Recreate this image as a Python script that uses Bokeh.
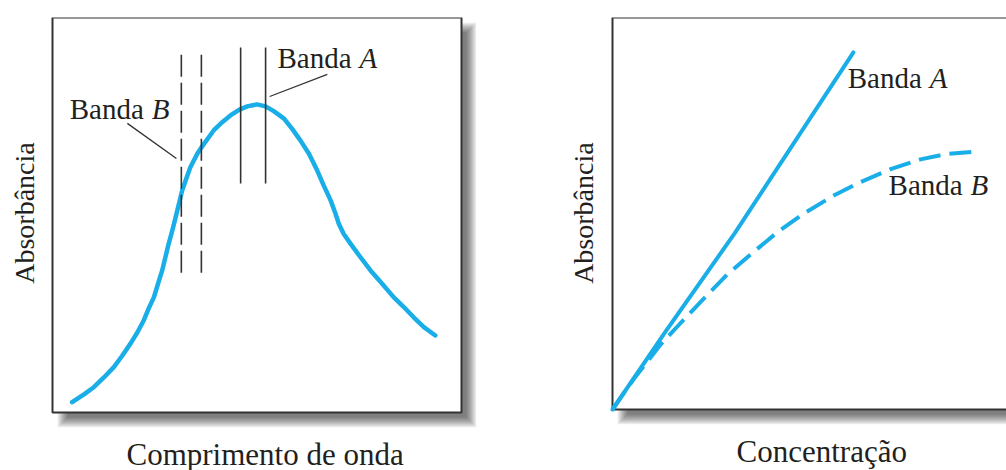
import math
from bokeh.plotting import figure
from bokeh.layouts import row
from bokeh.models import Range1d, Title
from bokeh.core.properties import value
from bokeh.embed import file_html
from bokeh.resources import INLINE

# ---------------- data (left panel: spectrum) ----------------
wavelength = [4.8, 7.7, 10.1, 12.5, 15.0, 17.0, 19.1, 20.7, 22.3, 23.5, 24.8,
              25.8, 26.8, 27.6, 28.4, 29.3, 30.1, 30.9, 31.7, 32.7, 33.7, 35.4,
              36.2, 39.4, 41.5, 43.5, 45.6, 47.6, 50.0, 52.1, 54.1, 56.6, 58.6,
              60.6, 62.7, 64.7, 66.3, 68.0, 69.2, 70.0, 71.2, 72.9, 75.3, 77.8,
              80.6, 83.4, 85.9, 88.3, 90.8, 93.6]
absorbance = [0.026, 0.046, 0.064, 0.088, 0.115, 0.143, 0.175, 0.202, 0.233,
              0.263, 0.292, 0.326, 0.359, 0.393, 0.427, 0.461, 0.494, 0.528,
              0.562, 0.592, 0.621, 0.655, 0.668, 0.714, 0.735, 0.752, 0.766,
              0.775, 0.780, 0.775, 0.763, 0.744, 0.718, 0.689, 0.655, 0.613,
              0.575, 0.537, 0.503, 0.478, 0.452, 0.427, 0.393, 0.359, 0.326,
              0.292, 0.267, 0.241, 0.216, 0.195]

bandB_x = [31.5, 36.4]          # dashed window (Banda B)
bandB_y = [0.354, 0.909]
bandA_x = [46.0, 52.1]          # solid window (Banda A)
bandA_y = [0.580, 0.924]

spec_label_text = ["Banda", "Banda"]
spec_label_letter = ["A", "B"]
spec_label_x = [55.0, 4.2]
spec_label_y = [0.871, 0.744]
leader_x0 = [53.1, 18.3]
leader_y0 = [0.800, 0.732]
leader_x1 = [67.2, 30.3]
leader_y1 = [0.856, 0.643]

# ---------------- data (right panel: calibration) ----------------
concA = [0.0, 13.0, 29.9, 58.9]
absA = [0.0, 0.199, 0.450, 0.911]
concB = [0.0, 5.0, 11.7, 16.6, 21.5, 28.0, 33.7, 40.3, 46.8, 54.1, 60.6, 68.0,
         75.3, 81.8, 88.8]
absB = [0.0, 0.075, 0.165, 0.220, 0.274, 0.344, 0.395, 0.452, 0.500, 0.546,
        0.580, 0.613, 0.638, 0.652, 0.658]

cal_label_text = ["Banda", "Banda"]
cal_label_letter = ["A", "B"]
cal_label_x = [57.5, 67.5]
cal_label_y = [0.819, 0.548]

# ---------------- style ----------------
BLUE = "#1aaee8"
INK = "#231f20"
GREY = "#333333"
FONT = "Liberation Serif"
FS = "29px"


def panel(mb_top, mb_right, mb_bottom, frame_w, frame_h, box_left, box_w,
          box_h, ylabel, ylabel_px, ylabel_mid, xlabel, xlabel_offset):
    xs = 100.0 / box_w
    ys = 1.0 / box_h
    p = figure(frame_width=frame_w, frame_height=frame_h,
               min_border_left=0, min_border_right=mb_right,
               min_border_top=mb_top, min_border_bottom=mb_bottom,
               x_range=Range1d(-box_left * xs, (frame_w - box_left) * xs),
               y_range=Range1d(1 - frame_h * ys, 1),
               x_axis_type=None, y_axis_type=None,
               toolbar_location=None, output_backend="svg",
               outline_line_color=None, background_fill_color="white",
               border_fill_color="white")
    # soft drop shadow
    o = 10
    for e in range(-5, 6):
        p.quad(left=(o - e) * xs, right=100 + (o + e) * xs,
               top=1 - (o - e) * ys, bottom=-(o + e) * ys,
               fill_color="black", fill_alpha=0.06, line_color=None)
    p.quad(left=0, right=100, top=1, bottom=0, fill_color="white",
           line_color=GREY, line_width=2)
    # vertical axis title, just left of the box
    p.text(x=[-ylabel_px * xs], y=[ylabel_mid], text=[ylabel],
           angle=math.pi / 2, text_align="center", text_baseline="middle",
           text_font=value(FONT), text_font_size="28px", text_color=INK)
    p.add_layout(Title(text=xlabel, align="left", offset=xlabel_offset,
                       standoff=14, text_font=FONT, text_font_size="31px",
                       text_font_style="normal", text_color=INK), "below")
    return p


left = panel(17, 24, 43, 476, 410, 52, 409, 395,
             "Absorbância", 28.0, 0.505, "Comprimento de onda", 126)
left.line(wavelength, absorbance, line_color=BLUE, line_width=4.5,
          line_cap="round", line_join="round")
left.segment(x0=bandB_x, y0=[bandB_y[0]] * 2, x1=bandB_x, y1=[bandB_y[1]] * 2,
             line_color=GREY, line_width=1.6, line_dash="22 6")
left.segment(x0=bandA_x, y0=[bandA_y[0]] * 2, x1=bandA_x, y1=[bandA_y[1]] * 2,
             line_color=GREY, line_width=1.6)
left.segment(x0=leader_x0, y0=leader_y0, x1=leader_x1, y1=leader_y1,
             line_color=GREY, line_width=1.3)
left.text(x=spec_label_x, y=spec_label_y, text=spec_label_text,
          y_offset=-10, text_font=value(FONT), text_font_size=FS,
          text_color=INK, text_baseline="alphabetic", text_align="left")
left.text(x=spec_label_x, y=spec_label_y, text=spec_label_letter,
          x_offset=82, y_offset=-10, text_font=value(FONT), text_font_size=FS,
          text_font_style="italic", text_color=INK,
          text_baseline="alphabetic", text_align="left")

right = panel(16, 0, 47, 506, 407, 112, 409, 392,
              "Absorbância", 29.5, 0.501, "Concentração", 236)
right.line(concA, absA, line_color=BLUE, line_width=4,
           line_cap="round", line_join="round")
right.line(concB, absB, line_color=BLUE, line_width=4, line_dash="22 9",
           line_join="round")
right.text(x=cal_label_x, y=cal_label_y, text=cal_label_text,
           y_offset=-10, text_font=value(FONT), text_font_size=FS,
           text_color=INK, text_baseline="alphabetic", text_align="left")
right.text(x=cal_label_x, y=cal_label_y, text=cal_label_letter,
           x_offset=82, y_offset=-10, text_font=value(FONT), text_font_size=FS,
           text_font_style="italic", text_color=INK,
           text_baseline="alphabetic", text_align="left")

layout = row(left, right)
open("out.html", "w").write(file_html(layout, INLINE))
